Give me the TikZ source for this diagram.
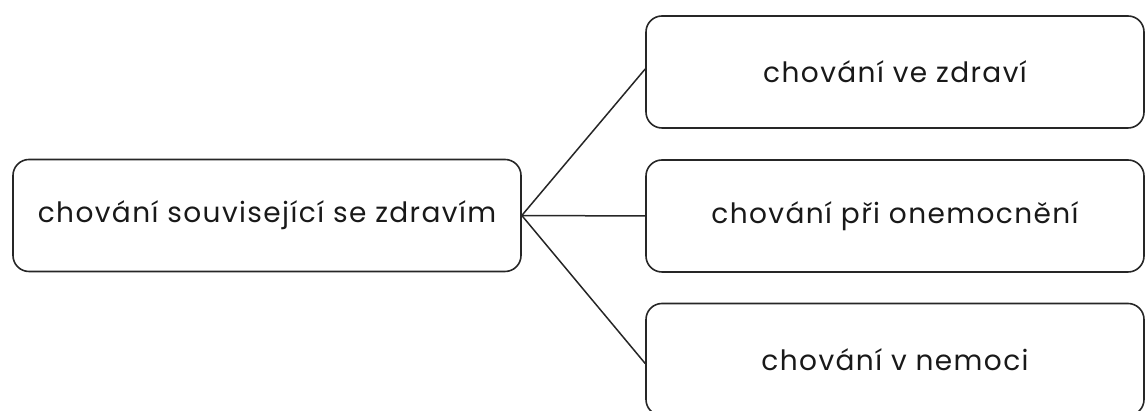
\documentclass[tikz,border=0pt]{standalone}
\usepackage{fontspec}
\setmainfont{Poppins}[LetterSpace=5]
\begin{document}
\begin{tikzpicture}[x=1pt,y=1pt,
  box/.style={draw=black!85, line width=1.6pt, rounded corners=16pt,
    minimum height=112pt, inner sep=0pt, font=\fontsize{28}{32}\selectfont,
    text=black!90},
  link/.style={draw=black!85, line width=1.5pt}]
  \useasboundingbox (0,0) rectangle (1145,411);
  \begin{scope}
    \clip (0,0) rectangle (1145,411);
    % root concept
    \node[box, minimum width=508pt] (root) at (267,195.5) {chování související se zdravím};
    % three kinds of health behaviour
    \node[box, minimum width=498pt] (health) at (895,339) {chování ve zdraví};
    \node[box, minimum width=498pt] (illness) at (895,195) {chování při onemocnění};
    \node[box, minimum width=498pt] (sick) at (895,51.5) {chování v nemoci};
    % connectors
    \draw[link] (root.east) -- ([yshift=3pt]health.west);
    \draw[link] (root.east) -- (illness.west);
    \draw[link] (root.east) -- ([yshift=-4pt]sick.west);
  \end{scope}
\end{tikzpicture}
\end{document}
